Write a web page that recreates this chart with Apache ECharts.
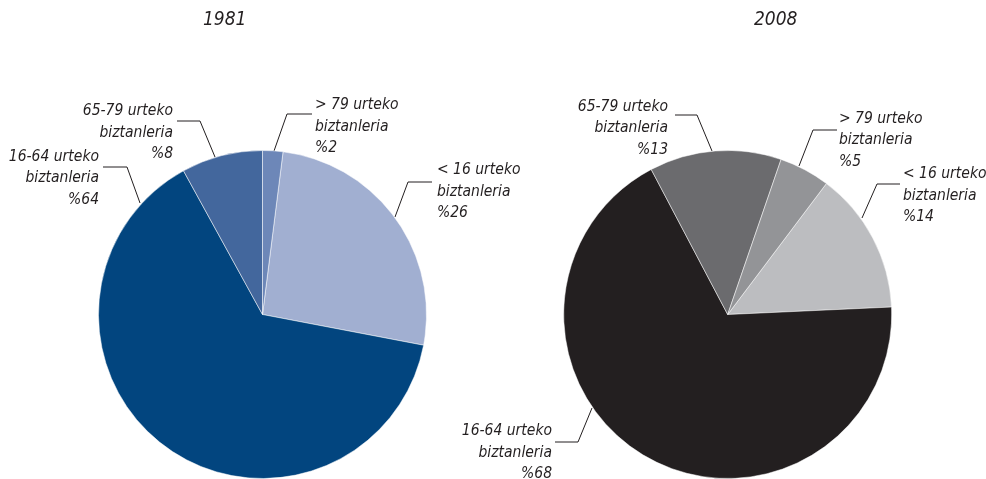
<!DOCTYPE html>
<html>
<head>
<meta charset="utf-8">
<script src="https://cdn.jsdelivr.net/npm/echarts@6/dist/echarts.min.js"></script>
<style>
  html, body { margin: 0; padding: 0; background: #fff; }
  #chart { width: 986px; height: 479px; }
</style>
</head>
<body>
<div id="chart"></div>
<script>
  // 数据
  var years = ['1981', '2008'];
  var ageGroups = ['< 16', '16-64', '65-79', '> 79'];
  var values1981 = [26, 64, 8, 2];
  var values2008 = [14, 68, 13, 5];

  var colors1981 = ['#a1afd1', '#02457f', '#43679d', '#6d87b8'];
  var colors2008 = ['#bcbdc0', '#231f20', '#6b6b6e', '#939497'];

  var font = "'DejaVu Sans Condensed', 'Liberation Sans Narrow', sans-serif";
  var ink = '#231f20';
  var lineH = 21.5;

  // 标签位置 (x, 第一行中心 y, 对齐, 引导线)
  var labelPos = [
    [
      { x: 437, y: 170, align: 'left', line: [[395, 217], [408, 182], [432, 182]] },
      { x: 99, y: 156.5, align: 'right', line: [[140, 203], [127, 167], [103, 167]] },
      { x: 173, y: 111, align: 'right', line: [[215, 157], [200, 121], [177, 121]] },
      { x: 315, y: 105, align: 'left', line: [[274, 151], [287, 114], [312, 114]] }
    ],
    [
      { x: 903, y: 174, align: 'left', line: [[862, 218], [877, 184], [900, 184]] },
      { x: 552, y: 431, align: 'right', line: [[592, 408], [578, 442], [555, 442]] },
      { x: 668, y: 106.5, align: 'right', line: [[712, 151], [697, 115], [675, 115]] },
      { x: 839, y: 118.5, align: 'left', line: [[799, 166], [813, 130], [837, 130]] }
    ]
  ];

  function buildData(values, colors) {
    return ageGroups.map(function (name, i) {
      return { name: name, value: values[i], itemStyle: { color: colors[i] } };
    });
  }

  function pieSeries(idx, values, colors, cx, startAngle) {
    return {
      type: 'pie',
      center: [cx, 314.5],
      radius: 164,
      startAngle: startAngle,
      clockwise: true,
      avoidLabelOverlap: false,
      silent: true,
      itemStyle: { borderColor: '#ffffff', borderWidth: 0.5 },
      label: {
        show: true,
        position: 'outside',
        formatter: function (p) {
          return p.name + ' urteko\nbiztanleria\n%' + p.value;
        },
        fontFamily: font,
        fontStyle: 'italic',
        fontSize: 15.5,
        lineHeight: lineH,
        color: ink
      },
      labelLine: {
        show: true,
        length: 10,
        length2: 10,
        lineStyle: { color: ink, width: 1 }
      },
      labelLayout: function (params) {
        var pos = labelPos[idx][params.dataIndex];
        return {
          x: pos.x,
          y: pos.y + lineH,
          align: pos.align,
          verticalAlign: 'middle',
          labelLinePoints: pos.line
        };
      },
      data: buildData(values, colors)
    };
  }

  var myChart = echarts.init(document.getElementById('chart'));

  var option = {
    animation: false,
    backgroundColor: '#ffffff',
    title: [
      {
        text: years[0], left: 203, top: 11, padding: 0,
        textStyle: { fontFamily: font, fontStyle: 'italic', fontWeight: 'normal', fontSize: 19, color: ink }
      },
      {
        text: years[1], left: 754, top: 11, padding: 0,
        textStyle: { fontFamily: font, fontStyle: 'italic', fontWeight: 'normal', fontSize: 19, color: ink }
      }
    ],
    series: [
      pieSeries(0, values1981, colors1981, 262.5, 82.8),
      pieSeries(1, values2008, colors2008, 727.7, 53)
    ]
  };

  myChart.setOption(option);
</script>
</body>
</html>
